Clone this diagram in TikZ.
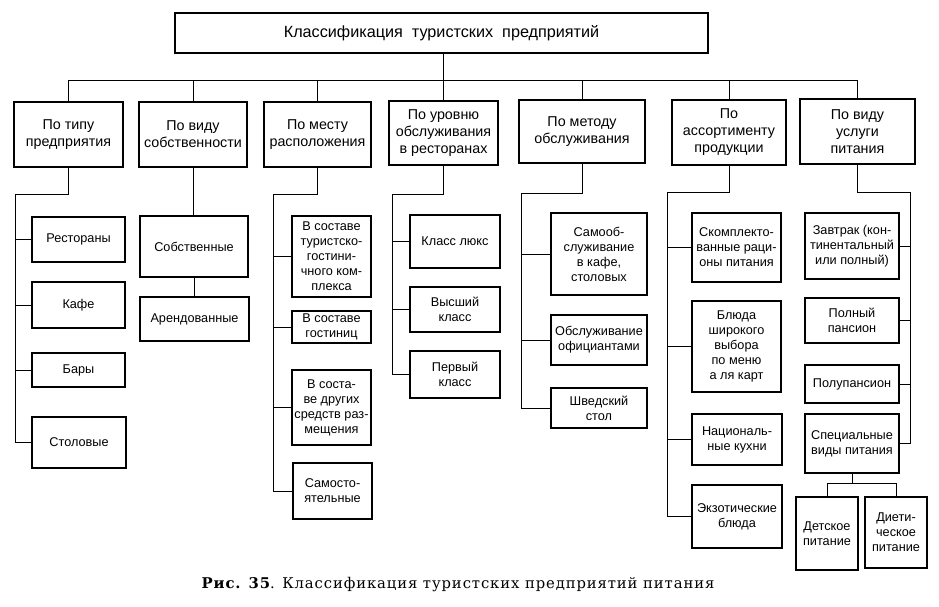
\documentclass[tikz,border=0pt]{standalone}
\usepackage{fontspec}
\setmainfont{Liberation Sans}
\newfontfamily\capfont[LetterSpace=6]{DejaVu Serif}
\tikzset{
  box/.style={draw, line width=1.1pt, inner sep=1pt, align=center, font=\fontsize{12.7}{15}\selectfont},
  cat/.style={box, font=\fontsize{14.3}{17}\selectfont},
  ttl/.style={box, font=\fontsize{16.2}{19}\selectfont},
  ln/.style={line width=0.8pt}
}
\newcommand\bx[7][box]{\node[#1, minimum width={(#5-#3)*1pt}, minimum height={(#6-#4)*1pt}] (#2) at ({(#3+#5)/2},{(#4+#6)/2}) {#7};}
\begin{document}
\begin{tikzpicture}[x=1pt,y=-1pt]
\useasboundingbox (0,0) rectangle (939,606);
% title
\bx[ttl]{top}{175}{13}{708}{53}{Классификация\ \ туристских\ \ предприятий}
% categories
\bx[cat]{c1}{14}{102}{123}{167}{По типу\\предприятия}
\bx[cat]{c2}{139}{102}{247}{167}{По виду\\собственности}
\bx[cat]{c3}{264}{102}{371}{167}{По месту\\расположения}
\bx[cat]{c4}{389}{101}{498}{165}{По уровню\\обслуживания\\в ресторанах}
\bx[cat]{c5}{519}{100}{645}{163}{По методу\\обслуживания}
\bx[cat]{c6}{672}{100}{786}{165}{По\\ассортименту\\продукции}
\bx[cat]{c7}{800}{99}{915}{164}{По виду\\услуги\\питания}
% column 1
\bx{s11}{32}{217}{125}{262}{Рестораны}
\bx{s12}{32}{282}{125}{328}{Кафе}
\bx{s13}{32}{353}{125}{387}{Бары}
\bx{s14}{32}{417}{126}{468}{Столовые}
% column 2
\bx{s21}{140}{216}{248}{277}{Собственные}
\bx{s22}{140}{297}{249}{341}{Арендованные}
% column 3
\bx{s31}{292}{216}{371}{297}{В составе\\туристско-\\гостини-\\чного ком-\\плекса}
\bx{s32}{292}{311}{371}{343}{В составе\\гостиниц}
\bx{s33}{292}{370}{371}{445}{В соста-\\ве других\\средств раз-\\мещения}
\bx{s34}{293}{463}{372}{519}{Самосто-\\ятельные}
% column 4
\bx{s41}{410}{215}{500}{268}{Класс люкс}
\bx{s42}{410}{287}{500}{332}{Высший\\класс}
\bx{s43}{410}{351}{500}{398}{Первый\\класс}
% column 5
\bx{s51}{551}{213}{647}{295}{Самооб-\\служивание\\в кафе,\\столовых}
\bx{s52}{551}{315}{647}{365}{Обслуживание\\официантами}
\bx{s53}{551}{388}{647}{428}{Шведский\\стол}
% column 6
\bx{s61}{692}{213}{781}{282}{Скомплекто-\\ванные раци-\\оны питания}
\bx{s62}{692}{301}{781}{392}{Блюда\\широкого\\выбора\\по меню\\а ля карт}
\bx{s63}{692}{414}{782}{465}{Националь-\\ные кухни}
\bx{s64}{692}{485}{782}{548}{Экзотические\\блюда}
% column 7
\bx{s71}{805}{213}{899}{279}{Завтрак (кон-\\тинентальный\\или полный)}
\bx{s72}{805}{298}{899}{343}{Полный\\пансион}
\bx{s73}{805}{365}{899}{403}{Полупансион}
\bx{s74}{805}{414}{899}{473}{Специальные\\виды питания}
\bx{s75}{796}{497}{858}{570}{Детское\\питание}
\bx{s76}{865}{497}{927}{568}{Диети-\\ческое\\питание}
% connectors top
\coordinate (bus) at (0,80);
\draw[ln] (c1.north) |- (c7.north |- bus) -- (c7.north);
\foreach \c in {c2,c3,c5,c6} \draw[ln] (\c.north) -- (\c.north |- bus);
\draw[ln] (c4.north |- top.south) -- (c4.north);
% column 1
\coordinate (j1) at (15,194);
\draw[ln] (c1.south) |- (j1) |- (s14.west);
\foreach \s in {s11,s12,s13} \draw[ln] (j1 |- \s.west) -- (\s.west);
% column 2
\draw[ln] (c2.south) -- (c2.south |- s21.north);
\draw[ln] (s21.south) -- (s21.south |- s22.north);
% column 3
\coordinate (j3) at (273,194);
\draw[ln] (c3.south) |- (j3) |- (s34.west);
\foreach \s in {s31,s32,s33} \draw[ln] (j3 |- \s.west) -- (\s.west);
% column 4
\coordinate (j4) at (392,194);
\draw[ln] (c4.south) |- (j4) |- (s43.west);
\foreach \s in {s41,s42} \draw[ln] (j4 |- \s.west) -- (\s.west);
% column 5
\coordinate (j5) at (521,193);
\draw[ln] (c5.south) |- (j5) |- (s53.west);
\foreach \s in {s51,s52} \draw[ln] (j5 |- \s.west) -- (\s.west);
% column 6
\coordinate (j6) at (667,192);
\draw[ln] (c6.south) |- (j6) |- (s64.west);
\foreach \s in {s61,s62,s63} \draw[ln] (j6 |- \s.west) -- (\s.west);
% column 7
\coordinate (j7) at (910,192);
\draw[ln] (c7.south) |- (j7) |- (s74.east);
\foreach \s in {s71,s72,s73} \draw[ln] (j7 |- \s.east) -- (\s.east);
% special
\coordinate (k) at (853,483);
\draw[ln] (s74.south) -- (s74.south |- k);
\draw[ln] (s75.north) |- (k) -| (s76.north);
% caption
\node[font=\capfont\fontsize{14.8}{17}\selectfont] (cap) at (458,585) {\textbf{Рис. 35}. Классификация туристских предприятий питания};
\end{tikzpicture}
\end{document}
